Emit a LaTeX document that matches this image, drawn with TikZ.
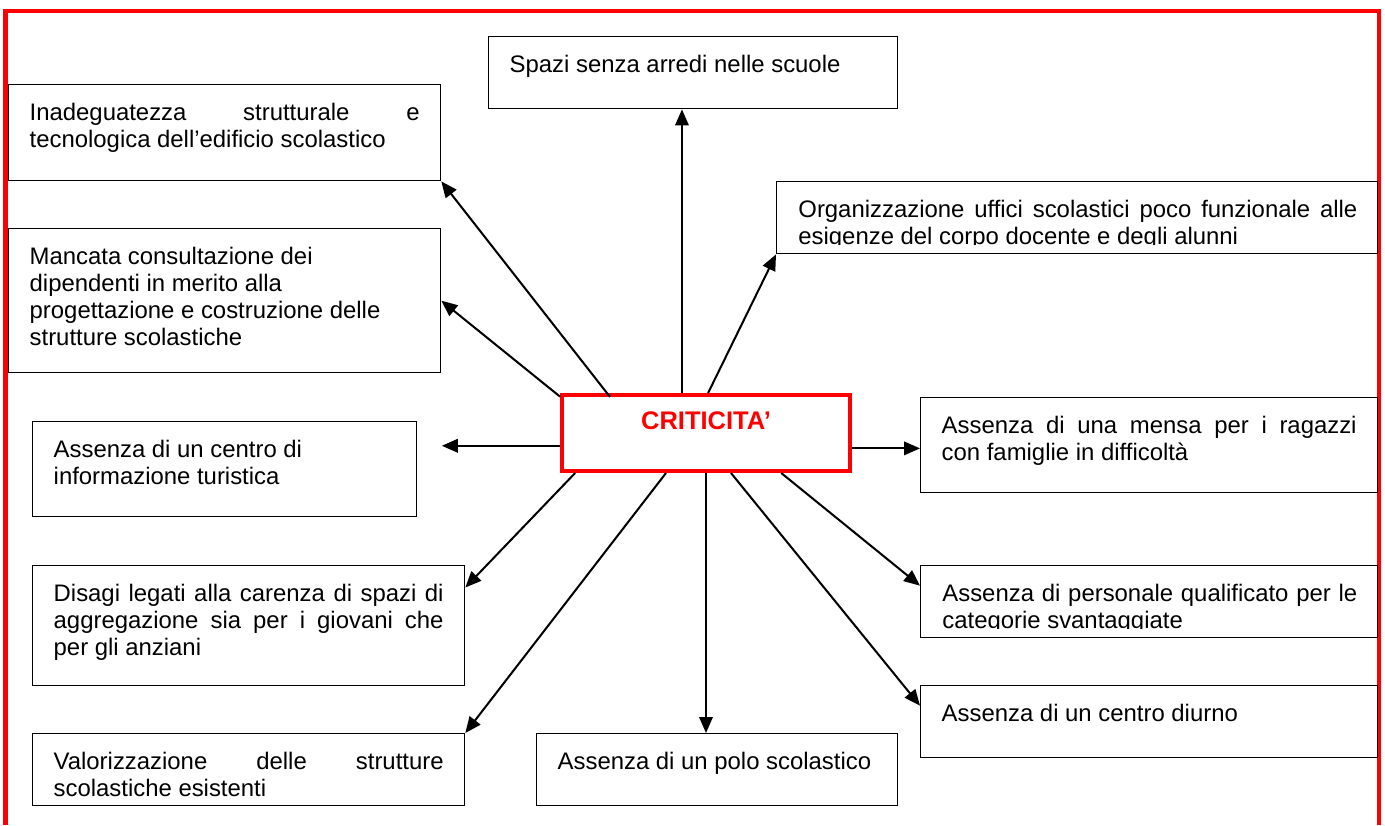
\documentclass[tikz,border=0pt]{standalone}
\usepackage{fontspec}
\setmainfont{Liberation Sans}
\usepackage{tikz}
\usetikzlibrary{arrows.meta}
\newcommand{\boxtext}[3]{\parbox[t][#2][t]{#1}{#3}}

\begin{document}
\begin{tikzpicture}[x=0.02cm, y=-0.02cm, >={Triangle[length=0.32cm,width=0.27cm]},
  txt/.style={inner xsep=0.42cm, inner ysep=0.36cm, font=\fontsize{13.6}{15.4}\selectfont},
  box/.style={txt, draw, line width=0.8pt, anchor=north west},
  crit/.style={draw=red, line width=2.3pt, anchor=north west, inner xsep=0.2cm, inner ysep=0.34cm, text=red, font=\fontsize{14.5}{17}\selectfont\bfseries},
  conn/.style={->, line width=1.15pt}]
\useasboundingbox (0,0) rectangle (1385,825);
\draw[red, line width=2.3pt] (5.5,825) -- (5.5,11) -- (1378.5,11) -- (1378.5,825);
\node[crit] (crit) at (560,393) {\boxtext{5.36cm}{0.84cm}{\centering CRITICITA’}};
\node[box] (spazi) at (488,36) {\boxtext{7.34cm}{0.72cm}{Spazi senza arredi nelle scuole}};
\node[box] (inad) at (8,84) {\boxtext{7.8cm}{1.2cm}{Inadeguatezza strutturale e\linebreak tecnologica dell’edificio scolastico}};
\node[box] (manc) at (8,228) {\boxtext{7.8cm}{2.16cm}{Mancata consultazione dei\\dipendenti in merito alla\\progettazione e costruzione delle\\strutture scolastiche}};
\node[box] (info) at (32,421) {\boxtext{6.84cm}{1.18cm}{Assenza di un centro di\\informazione turistica}};
\node[box] (disagi) at (32,565) {\boxtext{7.8cm}{1.68cm}{Disagi legati alla carenza di spazi di\linebreak aggregazione sia per i giovani che\linebreak per gli anziani}};
\node[box] (valor) at (32,733) {\boxtext{7.8cm}{0.72cm}{Valorizzazione delle strutture\linebreak scolastiche esistenti}};
\node[box] (polo) at (536,733) {\boxtext{6.38cm}{0.72cm}{Assenza di un polo scolastico}};
\node[box] (mensa) at (920,397) {\boxtext{8.3cm}{1.18cm}{Assenza di una mensa per i ragazzi\linebreak con famiglie in difficoltà}};
\node[box] (diurno) at (920,685) {\boxtext{8.3cm}{0.72cm}{Assenza di un centro diurno}};
\node[box, minimum width=12.02cm, minimum height=1.44cm, path picture={
  \node[txt, anchor=north west] at (path picture bounding box.north west) {\parbox[t]{11.18cm}{Organizzazione uffici scolastici poco funzionale alle\linebreak esigenze del corpo docente e degli alunni}};
  \fill[white] (path picture bounding box.south west) rectangle ([yshift=0.17cm]path picture bounding box.south east);
}] (org) at (776,181) {};
\node[box, minimum width=9.14cm, minimum height=1.44cm, path picture={
  \node[txt, anchor=north west] at (path picture bounding box.north west) {\parbox[t]{8.3cm}{Assenza di personale qualificato per le\linebreak categorie svantaggiate}};
  \fill[white] (path picture bounding box.south west) rectangle ([yshift=0.17cm]path picture bounding box.south east);
}] (pers) at (920,565) {};
\draw[conn] (crit.121.7) -- (crit.121.7 |- spazi.south);
\draw[conn, shorten <=-0.1cm] (crit.158.9) -- (inad.south east);
\draw[conn] (crit.166.3) -- (manc.east);
\draw[conn] (crit.87) -- (org.south west);
\draw[conn, shorten >=0.49cm] (crit.185.55) -- (crit.185.55 -| info.east);
\draw[conn] (crit.354.45) -- (crit.354.45 -| mensa.west);
\draw[conn] (crit.197.7) -- (disagi.10.6);
\draw[conn] (crit.225.5) -- (valor.north east);
\draw[conn] (crit.south) -- (crit.south |- polo.north);
\draw[conn] (crit.332.4) -- (pers.176.4);
\draw[conn] (crit.302.6) -- (diurno.176.4);
\end{tikzpicture}
\end{document}
